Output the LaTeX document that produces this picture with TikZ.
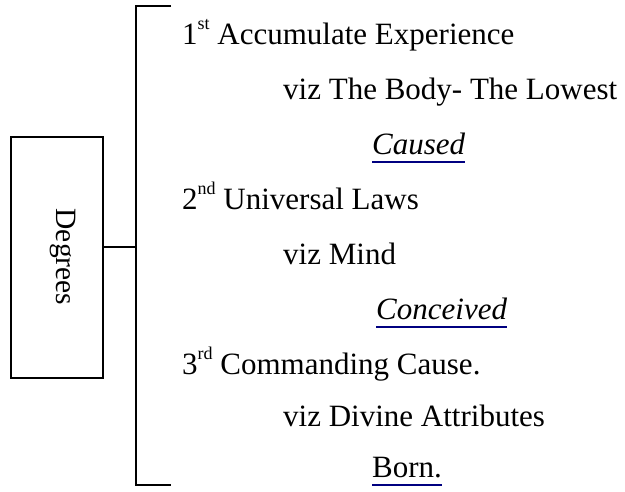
\documentclass[tikz,border=0pt]{standalone}
\usepackage{fontspec}
\setmainfont{Liberation Serif}
\definecolor{ulnavy}{HTML}{000080}
\newcommand{\supx}[1]{\raisebox{15pt}{\fontsize{18}{18}\selectfont #1}}
\begin{document}
\begin{tikzpicture}[x=1pt,y=-1pt,
  line/.style={line width=1.6pt,black},
  item/.style={anchor=base west,inner sep=0pt,font=\fontsize{31}{31}\selectfont},
  ul/.style={line width=1.6pt,ulnavy}]
\useasboundingbox (0,0) rectangle (625,491);
% box
\node[draw,line width=1.6pt,minimum width=92pt,minimum height=241pt,inner sep=0pt,anchor=north west] (box) at (10,136) {};
\node[rotate=-90,font=\fontsize{29.5}{29.5}\selectfont] (deg) at (63,257) {Degrees};
% bracket
\coordinate (bt) at (171,6);
\coordinate (btl) at (136,6);
\coordinate (bbl) at (136,485);
\coordinate (bb) at (171,485);
\coordinate (j) at (136,247);
\draw[line] (bt) -- (btl) -- (bbl) -- (bb);
\draw[line] (box.east |- j) -- (j);
% texts
\node[item] (l1) at (182,44) {1\supx{st} Accumulate Experience};
\node[item] (l2) at (283,99) {viz The Body- The Lowest};
\node[item] (l3) at (372,154) {\itshape Caused};
\node[item] (l4) at (182,209) {2\supx{nd} Universal Laws};
\node[item] (l5) at (283,264) {viz Mind};
\node[item] (l6) at (376,319) {\itshape Conceived};
\node[item] (l7) at (182,374) {3\supx{rd} Commanding Cause.};
\node[item] (l8) at (283,426) {viz Divine Attributes};
\node[item] (l9) at (372,477) {Born.};
\foreach \n in {l3,l6,l9}{
  \draw[ul] ([yshift=-8pt]\n.base west) -- ([yshift=-8pt]\n.base east);
}
\end{tikzpicture}
\end{document}
